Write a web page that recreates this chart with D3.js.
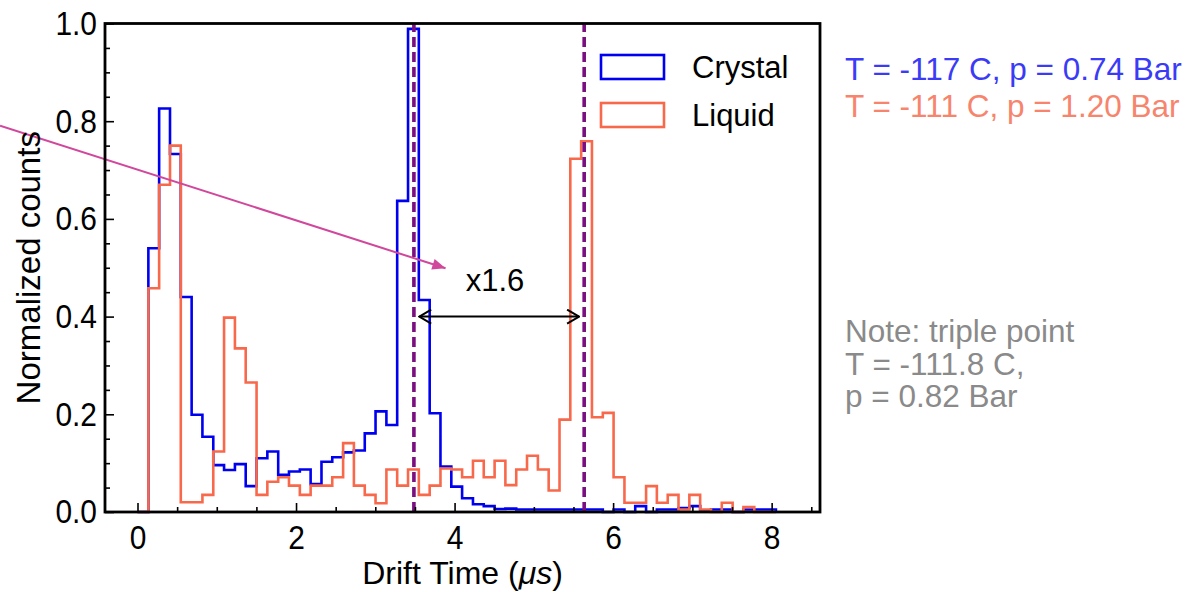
<!DOCTYPE html>
<html>
<head>
<meta charset="utf-8">
<script src="https://cdn.jsdelivr.net/npm/d3@7"></script>
<style>
  body { margin: 0; background: #fff; }
  text { font-family: "Liberation Sans", Arial, sans-serif; }
</style>
</head>
<body>
<svg id="chart" width="1191" height="592"></svg>
<script>
// bin edges of the drift time histogram (us)
var binEdges = [0, 0.137, 0.273, 0.410, 0.546, 0.683, 0.819, 0.956, 1.092, 1.229,
  1.365, 1.502, 1.638, 1.775, 1.911, 2.048, 2.184, 2.321, 2.457, 2.594,
  2.730, 2.867, 3.003, 3.140, 3.276, 3.413, 3.549, 3.686, 3.822, 3.959,
  4.095, 4.232, 4.368, 4.505, 4.641, 4.778, 4.914, 5.051, 5.187, 5.324,
  5.460, 5.597, 5.733, 5.870, 6.006, 6.143, 6.279, 6.416, 6.552, 6.689,
  6.825, 6.962, 7.098, 7.235, 7.371, 7.508, 7.644, 7.781, 7.917, 8.054];

// normalized counts per bin
var crystal = [0, 0.540, 0.826, 0.733, 0.440, 0.199, 0.154, 0.096, 0.086, 0.098,
  0.053, 0.110, 0.124, 0.076, 0.083, 0.087, 0.057, 0.103, 0.112, 0.122,
  0.126, 0.161, 0.206, 0.178, 0.637, 0.989, 0.434, 0.202, 0.093, 0.052,
  0.028, 0.016, 0.012, 0.006, 0.007, 0.005, 0.005, 0.005, 0.005, 0.005,
  0.005, 0.005, 0.005, 0, 0.005, 0, 0.012, 0, 0.005, 0.005,
  0.008, 0.012, 0.003, 0.005, 0.005, 0, 0.005, 0.005, 0.005];

var liquid = [0, 0.458, 0.670, 0.750, 0.020, 0.020, 0.035, 0.124, 0.398, 0.335,
  0.265, 0.035, 0.062, 0.071, 0.054, 0.035, 0.054, 0.054, 0.071, 0.141,
  0.054, 0.035, 0.018, 0.087, 0.054, 0.087, 0.035, 0.054, 0.089, 0.087,
  0.071, 0.105, 0.071, 0.105, 0.055, 0.087, 0.115, 0.087, 0.044, 0.189,
  0.723, 0.759, 0.194, 0.203, 0.071, 0.019, 0.019, 0.053, 0.019, 0.035,
  0.005, 0.035, 0.005, 0, 0.019, 0, 0.010, 0, 0];

var seriesNames = ["Crystal", "Liquid"];
var seriesColors = ["#0000f0", "#f8694c"];

var xMajorTicks = [0, 2, 4, 6, 8];
var xMinorTicks = [0.5, 1, 1.5, 2.5, 3, 3.5, 4.5, 5, 5.5, 6.5, 7, 7.5, 8.5];
var yMajorTicks = [0, 0.2, 0.4, 0.6, 0.8, 1.0];
var yMinorTicks = [0.05, 0.1, 0.15, 0.25, 0.3, 0.35, 0.45, 0.5, 0.55,
  0.65, 0.7, 0.75, 0.85, 0.9, 0.95];

// peak positions (dashed lines) and the ratio arrow
var peakTimes = [3.487, 5.635];
var ratioArrow = [3.554, 5.571];
var ratioLevel = 0.40;
var ratioLabel = "x1.6";
var ratioLabelPos = [4.51, 0.452];

// pink pointer arrow (data units, starts off the plot)
var pointerFrom = [-1.734, 0.791];
var pointerTo = [3.886, 0.499];

var conditions = ["T = -117 C, p = 0.74 Bar", "T = -111 C, p = 1.20 Bar"];
var conditionColors = ["#3b3bf6", "#f7846c"];
var noteLines = ["Note: triple point", "T = -111.8 C,", "p = 0.82 Bar"];

(function() {
  var svg = d3.select("#chart");

  var plotLeft = 105, plotRight = 820, plotTop = 23.5, plotBottom = 512;

  var x = d3.scaleLinear().domain([-0.41, 8.61]).range([plotLeft, plotRight]);
  var y = d3.scaleLinear().domain([0, 1]).range([plotBottom, plotTop]);

  var defs = svg.append("defs");
  defs.append("marker")
    .attr("id", "pinkhead")
    .attr("viewBox", "0 0 12 10")
    .attr("refX", 12).attr("refY", 5)
    .attr("markerWidth", 14).attr("markerHeight", 11)
    .attr("markerUnits", "userSpaceOnUse")
    .attr("orient", "auto")
    .append("path").attr("d", "M0,0 L12,5 L0,10 Z").attr("fill", "#d0479c");

  defs.append("marker")
    .attr("id", "openhead")
    .attr("viewBox", "0 0 14 16")
    .attr("refX", 13).attr("refY", 8)
    .attr("markerWidth", 14).attr("markerHeight", 16)
    .attr("markerUnits", "userSpaceOnUse")
    .attr("orient", "auto-start-reverse")
    .append("path").attr("d", "M1,1 L13,8 L1,15")
    .attr("fill", "none").attr("stroke", "#000").attr("stroke-width", 2);

  // histogram outlines
  var stepLine = d3.line()
    .x(function(d) { return x(d[0]); })
    .y(function(d) { return y(d[1]); });

  function stepPoints(vals) {
    var pts = [[binEdges[0], 0]];
    for (var i = 0; i < vals.length; i++) {
      pts.push([binEdges[i], vals[i]]);
      pts.push([binEdges[i + 1], vals[i]]);
    }
    pts.push([binEdges[vals.length], 0]);
    return pts;
  }

  [crystal, liquid].forEach(function(vals, k) {
    svg.append("path")
      .attr("d", stepLine(stepPoints(vals)))
      .attr("fill", "none")
      .attr("stroke", seriesColors[k])
      .attr("stroke-width", 2.6);
  });

  // dashed peak markers
  svg.selectAll(".peak").data(peakTimes).enter().append("line")
    .attr("class", "peak")
    .attr("x1", function(d) { return x(d); })
    .attr("x2", function(d) { return x(d); })
    .attr("y1", y(0)).attr("y2", y(1))
    .attr("stroke", "#7a0f80")
    .attr("stroke-width", 3.6)
    .attr("stroke-dasharray", "10,5");

  // ratio arrow
  svg.append("line")
    .attr("x1", x(ratioArrow[0])).attr("x2", x(ratioArrow[1]))
    .attr("y1", y(ratioLevel)).attr("y2", y(ratioLevel))
    .attr("stroke", "#000").attr("stroke-width", 2)
    .attr("marker-start", "url(#openhead)")
    .attr("marker-end", "url(#openhead)");

  svg.append("text")
    .attr("x", x(ratioLabelPos[0])).attr("y", y(ratioLabelPos[1]))
    .attr("text-anchor", "middle")
    .attr("font-size", 31)
    .text(ratioLabel);

  // pointer arrow
  svg.append("line")
    .attr("x1", x(pointerFrom[0])).attr("y1", y(pointerFrom[1]))
    .attr("x2", x(pointerTo[0])).attr("y2", y(pointerTo[1]))
    .attr("stroke", "#d0479c").attr("stroke-width", 2)
    .attr("marker-end", "url(#pinkhead)");

  // axes with inward ticks
  var xAxis = svg.append("g")
    .attr("transform", "translate(0," + plotBottom + ")")
    .call(d3.axisBottom(x).tickValues(xMajorTicks).tickSize(-9).tickPadding(13)
      .tickFormat(d3.format("d")));
  svg.append("g")
    .attr("transform", "translate(0," + plotBottom + ")")
    .call(d3.axisBottom(x).tickValues(xMinorTicks).tickSize(-5).tickFormat(""));

  var yAxis = svg.append("g")
    .attr("transform", "translate(" + plotLeft + ",0)")
    .call(d3.axisLeft(y).tickValues(yMajorTicks).tickSize(-9).tickPadding(8)
      .tickFormat(d3.format(".1f")));
  svg.append("g")
    .attr("transform", "translate(" + plotLeft + ",0)")
    .call(d3.axisLeft(y).tickValues(yMinorTicks).tickSize(-5).tickFormat(""));

  svg.selectAll(".domain").remove();
  svg.selectAll(".tick line").attr("stroke", "#000").attr("stroke-width", 1.6);
  // slightly condensed tick labels, like the original
  xAxis.selectAll("text").attr("font-size", 34).attr("fill", "#000")
    .attr("transform", "scale(0.88,1)");
  yAxis.selectAll("text").attr("font-size", 34).attr("fill", "#000")
    .attr("x", -8 / 0.88)
    .attr("transform", "scale(0.88,1)");

  // frame
  svg.append("rect")
    .attr("x", plotLeft).attr("y", plotTop)
    .attr("width", plotRight - plotLeft).attr("height", plotBottom - plotTop)
    .attr("fill", "none").attr("stroke", "#000").attr("stroke-width", 2.8);

  // axis titles
  svg.append("text")
    .attr("x", (plotLeft + plotRight) / 2).attr("y", 584)
    .attr("text-anchor", "middle")
    .attr("font-size", 32)
    .html("Drift Time (<tspan font-style='italic'>\u03bcs</tspan>)");

  svg.append("text")
    .attr("transform", "translate(40," + (plotTop + plotBottom) / 2 + ") rotate(-90)")
    .attr("text-anchor", "middle")
    .attr("font-size", 33)
    .text("Normalized counts");

  // legend
  var legend = svg.append("g").attr("transform", "translate(601,55)");
  seriesNames.forEach(function(name, i) {
    legend.append("rect")
      .attr("x", 0).attr("y", i * 48)
      .attr("width", 63).attr("height", 24)
      .attr("fill", "none").attr("stroke", seriesColors[i]).attr("stroke-width", 2.6);
    legend.append("text")
      .attr("x", 91).attr("y", i * 48 + 23)
      .attr("font-size", 31)
      .text(name);
  });

  // side notes
  conditions.forEach(function(t, i) {
    svg.append("text")
      .attr("x", 845).attr("y", 80 + i * 37)
      .attr("font-size", 31.5)
      .attr("fill", conditionColors[i])
      .text(t);
  });
  noteLines.forEach(function(t, i) {
    svg.append("text")
      .attr("x", 845).attr("y", 342 + i * 32.5)
      .attr("font-size", 31.5)
      .attr("fill", "#8a8a8a")
      .text(t);
  });
})();
</script>
</body>
</html>
